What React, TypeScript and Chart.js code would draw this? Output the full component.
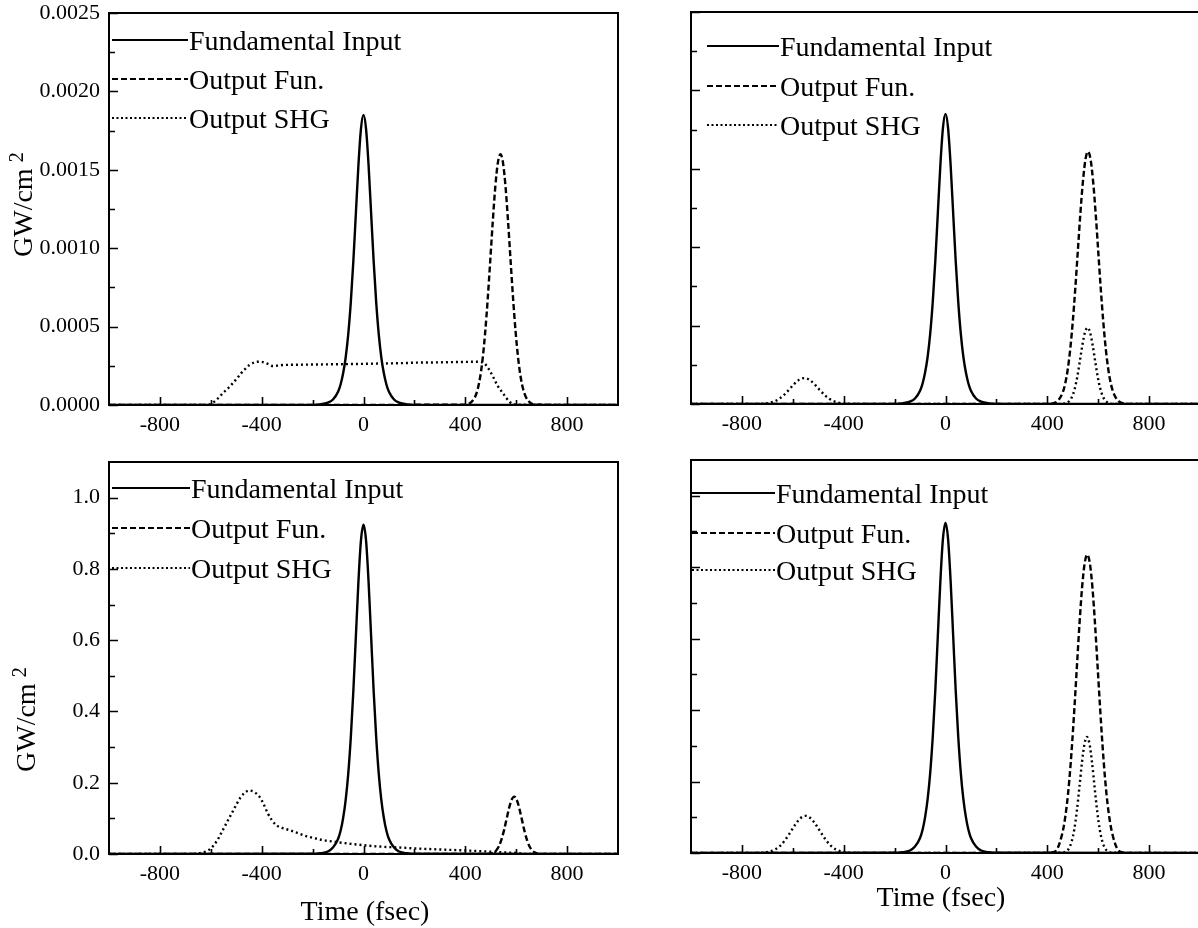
import React, { useEffect, useRef } from "react";
import { Chart, registerables } from "chart.js";

Chart.register(...registerables);

const SERIF = "'Liberation Serif', 'Times New Roman', Times, serif";

// ---- axis ticks ----
const timeTicks = [-800, -400, 0, 400, 800];
const timeMinorTicks = [-600, -200, 200, 600];
const lowTicks = [0, 0.0005, 0.001, 0.0015, 0.002, 0.0025];
const lowMinorTicks = [0.00025, 0.00075, 0.00125, 0.00175, 0.00225];
const highTicks = [0, 0.2, 0.4, 0.6, 0.8, 1.0];
const highMinorTicks = [0.1, 0.3, 0.5, 0.7, 0.9];

const seriesNames = ["Fundamental Input", "Output Fun.", "Output SHG"];

// ---- fundamental input pulse (time in fs) ----
const fundT = [-1000, -200, -170, -140, -120, -100, -90, -80, -70, -60, -50, -40, -30, -20, -10, 0,
  10, 20, 30, 40, 50, 60, 70, 80, 90, 100, 120, 140, 170, 200, 1000];
const fundLowY = [0, 0.000001, 0.000004, 0.000015, 0.000035, 0.000085, 0.000131, 0.000202, 0.000303, 0.00045,
  0.000653, 0.000914, 0.001221, 0.001528, 0.001761, 0.00185, 0.001761, 0.001528, 0.001221, 0.000914, 0.000653,
  0.00045, 0.000303, 0.000202, 0.000131, 0.000085, 0.000035, 0.000015, 0.000004, 0.000001, 0];
const fundHighY = [0, 0.0005, 0.002, 0.007, 0.018, 0.042, 0.065, 0.101, 0.152, 0.225, 0.326, 0.456, 0.61,
  0.763, 0.88, 0.924, 0.88, 0.763, 0.61, 0.456, 0.326, 0.225, 0.152, 0.101, 0.065, 0.042, 0.018, 0.007,
  0.002, 0.0005, 0];

// ---- top left: low intensity, case a ----
const tlFunT = [-1000, 398, 418, 438, 448, 458, 468, 478, 488, 498, 508, 518, 528, 538, 548, 558, 568, 578,
  588, 598, 608, 618, 628, 638, 658, 678, 1000];
const tlFunY = [0, 0.0000018, 0.000011, 0.0000504, 0.000097, 0.000174, 0.000293, 0.000461, 0.000674, 0.00092,
  0.001171, 0.001394, 0.001546, 0.0016, 0.001546, 0.001394, 0.001171, 0.00092, 0.000674, 0.000461, 0.000293,
  0.000174, 0.000097, 0.0000504, 0.000011, 0.0000018, 0];
const tlShgT = [-1000, -640, -606, -580, -553, -530, -514, -497, -481, -465, -448, -430, -416, -400, -389, -373,
  -357, -337, -317, -250, -150, -55, 50, 150, 207, 300, 400, 443, 469, 490, 509, 528, 548, 562, 574, 590, 1000];
const tlShgY = [0, 0, 0.000003, 0.00003, 0.000075, 0.00011, 0.000138, 0.00017, 0.000202, 0.00023, 0.000255,
  0.000271, 0.000276, 0.000275, 0.00027, 0.00026, 0.000249, 0.000251, 0.000255, 0.000257, 0.000259, 0.000261,
  0.000264, 0.000267, 0.00027, 0.000272, 0.000275, 0.000276, 0.000272, 0.000235, 0.00018, 0.00012, 0.000075,
  0.000043, 0.00002, 0.000003, 0];

// ---- top right: low intensity, case b ----
const trFunT = [-1000, 400, 420, 440, 460, 470, 480, 490, 500, 510, 520, 530, 540, 550, 560, 570, 580, 590,
  600, 610, 620, 630, 640, 650, 660, 680, 700, 720, 1000];
const trFunY = [0, 0.0000005, 0.0000035, 0.0000179, 0.0000707, 0.000128, 0.000217, 0.000348, 0.000523,
  0.000737, 0.000977, 0.001216, 0.00142, 0.00156, 0.00161, 0.00156, 0.00142, 0.001216, 0.000977, 0.000737,
  0.000523, 0.000348, 0.000217, 0.000128, 0.0000707, 0.0000179, 0.0000035, 0.0000005, 0];
const trShgT = [-1000, -755, -735, -715, -695, -675, -655, -635, -615, -595, -575, -555, -535, -515, -495, -475,
  -455, -435, -415, -395, -375, -355, 458, 468, 478, 488, 498, 508, 518, 528, 538, 548, 558, 568, 578, 588, 598,
  608, 618, 628, 638, 648, 658, 1000];
const trShgY = [0, 0.0000002, 0.0000008, 0.0000024, 0.0000064, 0.0000153, 0.0000315, 0.0000574, 0.0000911,
  0.0001267, 0.0001544, 0.000165, 0.0001544, 0.0001267, 0.0000911, 0.0000574, 0.0000315, 0.0000153, 0.0000064,
  0.0000024, 0.0000008, 0.0000002, 0.0000008, 0.0000028, 0.0000083, 0.0000214, 0.0000492, 0.0000989, 0.000175,
  0.000274, 0.000377, 0.000457, 0.000487, 0.000457, 0.000377, 0.000274, 0.000175, 0.0000989, 0.0000492,
  0.0000214, 0.0000083, 0.0000028, 0.0000008, 0];

// ---- bottom left: high intensity, case a ----
const blFunT = [-1000, 472, 492, 502, 512, 522, 532, 542, 552, 562, 572, 582, 592, 602, 612, 622, 632, 642,
  652, 662, 672, 682, 692, 712, 1000];
const blFunY = [0, 0.00002, 0.0006, 0.0018, 0.0046, 0.0106, 0.0217, 0.0401, 0.0662, 0.0977, 0.129, 0.152,
  0.161, 0.152, 0.129, 0.0977, 0.0662, 0.0401, 0.0217, 0.0106, 0.0046, 0.0018, 0.0006, 0.00002, 0];
const blShgT = [-1000, -680, -645, -620, -599, -575, -553, -533, -514, -497, -481, -465, -448, -430, -409,
  -392, -376, -360, -343, -320, -291, -260, -225, -190, -160, -110, -68, 10, 60, 115, 170, 220, 270, 325, 380,
  430, 470, 509, 540, 570, 600, 640, 1000];
const blShgY = [0, 0, 0.002, 0.007, 0.016, 0.038, 0.067, 0.094, 0.119, 0.142, 0.161, 0.173, 0.178, 0.174,
  0.161, 0.139, 0.114, 0.095, 0.081, 0.073, 0.067, 0.059, 0.05, 0.044, 0.039, 0.034, 0.03, 0.024, 0.021,
  0.019, 0.017, 0.015, 0.0135, 0.012, 0.0105, 0.009, 0.0075, 0.006, 0.005, 0.004, 0.003, 0, 0];

// ---- bottom right: high intensity, case b ----
const brFunT = [-1000, 397, 417, 437, 457, 467, 477, 487, 497, 507, 517, 527, 537, 547, 557, 567, 577, 587,
  597, 607, 617, 627, 637, 647, 657, 677, 697, 717, 1000];
const brFunY = [0, 0.0002, 0.0015, 0.009, 0.0492, 0.0843, 0.136, 0.208, 0.301, 0.411, 0.53, 0.647, 0.746,
  0.812, 0.835, 0.812, 0.746, 0.647, 0.53, 0.411, 0.301, 0.208, 0.136, 0.0843, 0.0492, 0.009, 0.0015, 0.0002, 0];
const brShgT = [-1000, -750, -730, -710, -690, -670, -650, -630, -610, -590, -570, -550, -530, -510, -490,
  -470, -450, -430, -410, -390, -370, -350, 456, 466, 476, 486, 496, 506, 516, 526, 536, 546, 556, 566, 576,
  586, 596, 606, 616, 626, 636, 646, 656, 1000];
const brShgY = [0, 0.0001, 0.0005, 0.0015, 0.0041, 0.0097, 0.0199, 0.0362, 0.0574, 0.0799, 0.0973, 0.104,
  0.0973, 0.0799, 0.0574, 0.0362, 0.0199, 0.0097, 0.0041, 0.0015, 0.0005, 0.0001, 0.0006, 0.0019, 0.0055,
  0.0143, 0.0328, 0.066, 0.117, 0.183, 0.252, 0.305, 0.325, 0.305, 0.252, 0.183, 0.117, 0.066, 0.0328, 0.0143,
  0.0055, 0.0019, 0.0006, 0];

const DASH_OUT = [6, 3];
const DASH_SHG = [2, 3];
const LEGEND_DASHES = [[], [6, 3], [2, 2.5]];

type Box = { left: number; top: number; width: number; height: number };
type Area = { l: number; t: number; r: number; b: number };
type PanelSpec = {
  box: Box;
  area: Area;
  yMax: number;
  yTicks: number[];
  yMinor: number[];
  yDecimals: number;
  yLabels: boolean;
  series: [number[], number[]][];
  legend: { x0: number; x1: number; ys: number[] };
  yTitle?: { x: number; y: number };
  xTitle?: { cx: number; baseline: number };
};

const panels: PanelSpec[] = [
  {
    box: { left: 0, top: 0, width: 640, height: 445 },
    area: { l: 109, t: 13, r: 618, b: 405 },
    yMax: 0.0025, yTicks: lowTicks, yMinor: lowMinorTicks, yDecimals: 4, yLabels: true,
    series: [[fundT, fundLowY], [tlFunT, tlFunY], [tlShgT, tlShgY]],
    legend: { x0: 112, x1: 188, ys: [40, 79, 118] },
    yTitle: { x: 32, y: 257 },
  },
  {
    box: { left: 660, top: 0, width: 560, height: 445 },
    area: { l: 691, t: 12, r: 1200, b: 404 },
    yMax: 0.0025, yTicks: lowTicks, yMinor: lowMinorTicks, yDecimals: 4, yLabels: false,
    series: [[fundT, fundLowY], [trFunT, trFunY], [trShgT, trShgY]],
    legend: { x0: 707, x1: 779, ys: [46, 86, 125] },
  },
  {
    box: { left: 0, top: 445, width: 640, height: 483 },
    area: { l: 109, t: 462, r: 618, b: 854 },
    yMax: 1.1, yTicks: highTicks, yMinor: highMinorTicks, yDecimals: 1, yLabels: true,
    series: [[fundT, fundHighY], [blFunT, blFunY], [blShgT, blShgY]],
    legend: { x0: 112, x1: 190, ys: [488, 528, 568] },
    yTitle: { x: 35, y: 772 },
    xTitle: { cx: 365, baseline: 920 },
  },
  {
    box: { left: 660, top: 445, width: 560, height: 483 },
    area: { l: 691, t: 460, r: 1200, b: 853 },
    yMax: 1.1, yTicks: highTicks, yMinor: highMinorTicks, yDecimals: 1, yLabels: false,
    series: [[fundT, fundHighY], [brFunT, brFunY], [brShgT, brShgY]],
    legend: { x0: 692, x1: 775, ys: [493, 533, 570] },
    xTitle: { cx: 941, baseline: 906 },
  },
];

function PulsePanel({ p }: { p: PanelSpec }) {
  const ref = useRef<HTMLCanvasElement | null>(null);

  useEffect(() => {
    const canvas = ref.current;
    if (!canvas) return;
    const ox = p.box.left;
    const oy = p.box.top;
    const dashes = [[], DASH_OUT, DASH_SHG];

    const decorations = {
      id: "panelDecorations",
      afterDraw(chart: any) {
        const ctx = chart.ctx as CanvasRenderingContext2D;
        const ca = chart.chartArea;
        const xs = chart.scales.x;
        const ys = chart.scales.y;
        ctx.save();
        ctx.strokeStyle = "#000";
        ctx.fillStyle = "#000";

        // frame
        ctx.lineWidth = 2;
        ctx.setLineDash([]);
        ctx.strokeRect(ca.left, ca.top, ca.right - ca.left, ca.bottom - ca.top);

        // inward tick marks
        ctx.lineWidth = 1.6;
        ctx.beginPath();
        timeTicks.forEach((v) => {
          const x = Math.round(xs.getPixelForValue(v)) + 0.5;
          ctx.moveTo(x, ca.bottom);
          ctx.lineTo(x, ca.bottom - 8);
        });
        timeMinorTicks.forEach((v) => {
          const x = Math.round(xs.getPixelForValue(v)) + 0.5;
          ctx.moveTo(x, ca.bottom);
          ctx.lineTo(x, ca.bottom - 5);
        });
        p.yTicks.forEach((v) => {
          const y = Math.round(ys.getPixelForValue(v)) + 0.5;
          ctx.moveTo(ca.left, y);
          ctx.lineTo(ca.left + 9, y);
        });
        p.yMinor.forEach((v) => {
          const y = Math.round(ys.getPixelForValue(v)) + 0.5;
          ctx.moveTo(ca.left, y);
          ctx.lineTo(ca.left + 6, y);
        });
        ctx.stroke();

        // legend
        ctx.font = `28px ${SERIF}`;
        ctx.textAlign = "left";
        ctx.textBaseline = "alphabetic";
        seriesNames.forEach((name, i) => {
          const y = p.legend.ys[i] - oy;
          ctx.lineWidth = 2;
          ctx.setLineDash(LEGEND_DASHES[i]);
          ctx.beginPath();
          ctx.moveTo(p.legend.x0 - ox, y);
          ctx.lineTo(p.legend.x1 - ox, y);
          ctx.stroke();
          ctx.setLineDash([]);
          ctx.fillText(name, p.legend.x1 - ox + 1, y + 10);
        });

        // y axis title
        if (p.yTitle) {
          ctx.save();
          ctx.translate(p.yTitle.x - ox, p.yTitle.y - oy);
          ctx.rotate(-Math.PI / 2);
          ctx.font = `28px ${SERIF}`;
          ctx.fillText("GW/cm", 0, 0);
          const w = ctx.measureText("GW/cm").width;
          ctx.font = `20px ${SERIF}`;
          ctx.fillText("2", w + 6, -9);
          ctx.restore();
        }

        // x axis title
        if (p.xTitle) {
          ctx.font = `28px ${SERIF}`;
          ctx.textAlign = "center";
          ctx.fillText("Time (fsec)", p.xTitle.cx - ox, p.xTitle.baseline - oy);
        }
        ctx.restore();
      },
    };

    const chart = new Chart(canvas, {
      type: "line",
      data: {
        datasets: p.series.map(([t, v], i) => ({
          label: seriesNames[i],
          data: t.map((x, k) => ({ x, y: v[k] })),
          borderColor: "#000",
          borderWidth: 2.4,
          borderDash: dashes[i],
          borderCapStyle: "butt",
          pointRadius: 0,
          fill: false,
          cubicInterpolationMode: "monotone",
        })),
      },
      options: {
        animation: false,
        responsive: false,
        maintainAspectRatio: false,
        devicePixelRatio: 1,
        layout: {
          padding: {
            left: 0,
            bottom: 0,
            top: p.area.t - oy,
            right: ox + p.box.width - p.area.r,
          },
        },
        plugins: { legend: { display: false }, tooltip: { enabled: false } },
        scales: {
          x: {
            type: "linear",
            min: -1000,
            max: 1000,
            grid: { display: false, drawTicks: false },
            border: { display: false },
            afterBuildTicks: (s: any) => {
              s.ticks = timeTicks.map((value) => ({ value }));
            },
            afterFit: (s: any) => {
              s.height = oy + p.box.height - p.area.b;
              s.paddingLeft = 0;
              s.paddingRight = 0;
              s.paddingTop = 0;
              s.paddingBottom = 0;
            },
            ticks: {
              color: "#000",
              font: { family: SERIF, size: 22 },
              padding: 7,
              maxRotation: 0,
              autoSkip: false,
              callback: (v: any) => String(v),
            },
          },
          y: {
            type: "linear",
            min: 0,
            max: p.yMax,
            grid: { display: false, drawTicks: false },
            border: { display: false },
            afterBuildTicks: (s: any) => {
              s.ticks = p.yTicks.map((value) => ({ value }));
            },
            afterFit: (s: any) => {
              s.width = p.area.l - ox;
              s.paddingLeft = 0;
              s.paddingRight = 0;
              s.paddingTop = 0;
              s.paddingBottom = 0;
            },
            ticks: {
              display: p.yLabels,
              color: "#000",
              font: { family: SERIF, size: 22 },
              padding: 9,
              autoSkip: false,
              callback: (v: any) => Number(v).toFixed(p.yDecimals),
            },
          },
        },
      },
      plugins: [decorations],
    } as any);

    return () => chart.destroy();
  }, [p]);

  return (
    <canvas
      ref={ref}
      width={p.box.width}
      height={p.box.height}
      style={{
        position: "absolute",
        left: p.box.left,
        top: p.box.top,
        width: p.box.width,
        height: p.box.height,
      }}
    />
  );
}

export default function App() {
  return (
    <div
      style={{
        position: "absolute",
        left: 0,
        top: 0,
        width: 1198,
        height: 928,
        overflow: "hidden",
        background: "#fff",
      }}
    >
      {panels.map((p, i) => (
        <PulsePanel key={i} p={p} />
      ))}
    </div>
  );
}
